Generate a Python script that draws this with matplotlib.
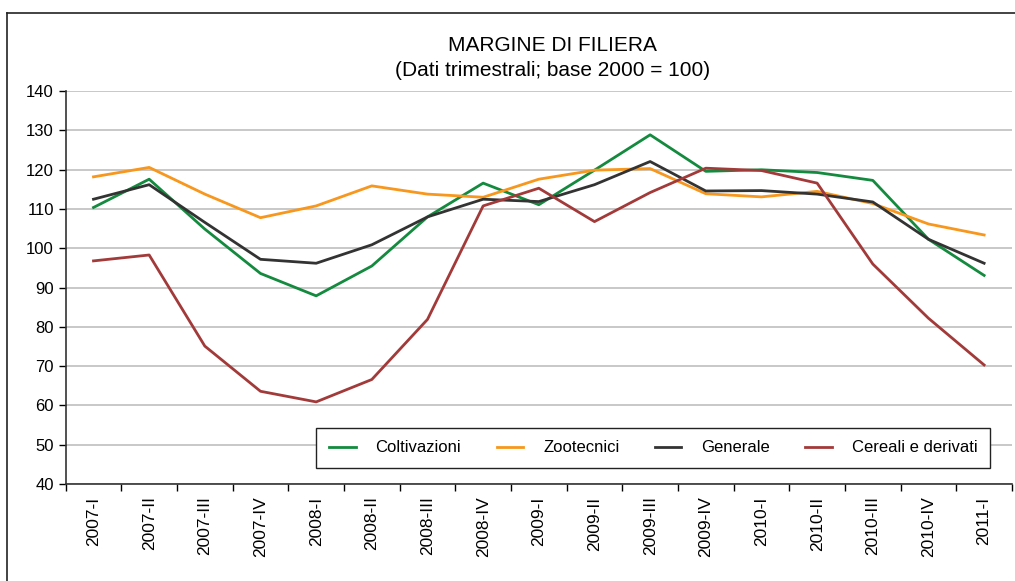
import matplotlib.pyplot as plt
from matplotlib.lines import Line2D

plt.rcParams['font.family'] = ['Liberation Sans', 'DejaVu Sans']

# trimestri
quarters = ['2007-I', '2007-II', '2007-III', '2007-IV',
            '2008-I', '2008-II', '2008-III', '2008-IV',
            '2009-I', '2009-II', '2009-III', '2009-IV',
            '2010-I', '2010-II', '2010-III', '2010-IV', '2011-I']

coltivazioni = [110.4, 117.6, 104.9, 93.6, 87.9, 95.5, 108.0, 116.6,
                111.1, 119.9, 128.9, 119.6, 120.0, 119.3, 117.3, 102.3, 93.1]
zootecnici = [118.2, 120.6, 113.8, 107.8, 110.8, 115.9, 113.8, 113.0,
              117.6, 119.9, 120.3, 113.9, 113.1, 114.5, 111.4, 106.2, 103.4]
generale = [112.5, 116.2, 106.6, 97.2, 96.2, 100.9, 108.0, 112.5,
            111.9, 116.2, 122.1, 114.6, 114.7, 113.8, 111.8, 102.3, 96.2]
cereali = [96.8, 98.3, 75.1, 63.6, 60.9, 66.6, 81.9, 110.8,
           115.3, 106.8, 114.2, 120.4, 119.8, 116.6, 96.0, 82.2, 70.3]

series_names = ['Coltivazioni', 'Zootecnici', 'Generale', 'Cereali e derivati']
series_colors = ['#138a3e', '#f7971d', '#333333', '#a33a3a']

fig = plt.figure(figsize=(10.15, 5.81), dpi=100)
ax = fig.add_axes([0.0647, 0.167, 0.9323, 0.676])

x = list(range(len(quarters)))
for vals, name, col in zip([coltivazioni, zootecnici, generale, cereali],
                           series_names, series_colors):
    ax.plot(x, vals, color=col, lw=2.0, label=name, zorder=3)

ax.set_xlim(-0.5, len(quarters) - 0.5)
ax.set_ylim(40, 140)
ax.set_yticks(range(40, 141, 10))
ax.tick_params(axis='y', labelsize=12, length=5, direction='out', width=1)
ax.yaxis.grid(True, color='#c8c8c8', lw=1.4, zorder=0)
ax.set_axisbelow(True)

# tick tra le categorie, etichette al centro
ax.set_xticks([i - 0.5 for i in range(len(quarters) + 1)])
ax.set_xticklabels([])
ax.set_xticks(x, minor=True)
ax.set_xticklabels(quarters, minor=True, rotation=90, fontsize=12.5)
ax.tick_params(axis='x', which='major', length=5, width=1)
ax.tick_params(axis='x', which='minor', length=0, pad=9)

for s in ['top', 'right']:
    ax.spines[s].set_visible(False)
for s in ['left', 'bottom']:
    ax.spines[s].set_color('#333333')
    ax.spines[s].set_linewidth(1.2)

leg = ax.legend(loc='lower left', bbox_to_anchor=(0.265, 0.041, 0.712, 0.107),
                mode='expand', ncol=4, fontsize=12, frameon=True, fancybox=False,
                edgecolor='#222222', framealpha=1, borderaxespad=0,
                borderpad=0.75, handlelength=1.6, handletextpad=1.2)
leg.get_frame().set_linewidth(1.0)

fig.text(0.544, 0.922, 'MARGINE DI FILIERA', ha='center', va='center', fontsize=15)
fig.text(0.544, 0.879, '(Dati trimestrali; base 2000 = 100)', ha='center',
         va='center', fontsize=15)

# cornice esterna
fig.add_artist(Line2D([0.007, 0.007], [0.0, 0.978], color='#222222', lw=1.2))
fig.add_artist(Line2D([0.007, 1.0], [0.978, 0.978], color='#222222', lw=1.2))

fig.savefig('out.png', dpi=100)
